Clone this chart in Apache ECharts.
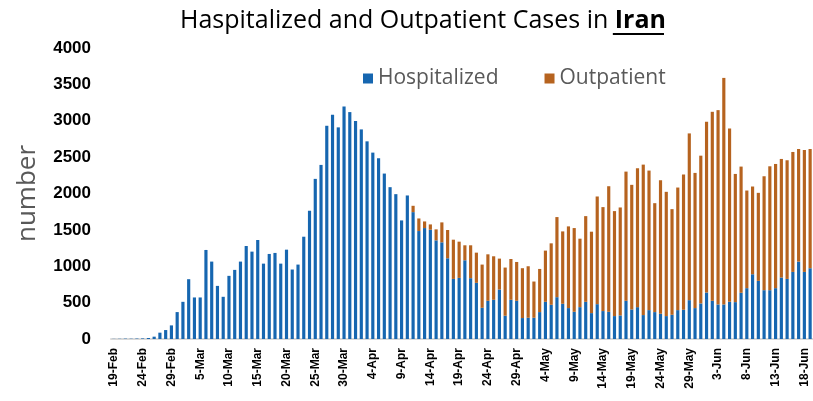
<!DOCTYPE html>
<html>
<head>
<meta charset="utf-8">
<script src="https://cdn.jsdelivr.net/npm/echarts@6/dist/echarts.min.js"></script>
<style>
	html, body { margin: 0; padding: 0; background: #fff; }
	#main { width: 813px; height: 401px; }
</style>
</head>
<body>
<div id="main"></div>
<script>
	// daily categories 19-Feb .. 19-Jun
	var months = ['Feb', 'Mar', 'Apr', 'May', 'Jun'];
	var monthStart = [19, 1, 1, 1, 1];
	var monthEnd = [29, 31, 30, 31, 19];
	var days = [];
	for(var m = 0; m < months.length; m++) {
		for(var d = monthStart[m]; d <= monthEnd[m]; d++) {
			days.push(d + '-' + months[m]);
		}
	}

	// hospitalized (blue)
	var hospitalized = [
		2, 3, 5, 4, 6, 8, 14, 32, 87, 123,
		187, 370, 511, 822, 571, 571, 1224, 1064, 730, 580,
		868, 950, 1064, 1278, 1201, 1361, 1036, 1169, 1183, 1036,
		1228, 955, 1023, 1406, 1762, 2201, 2393, 2931, 3082, 2909,
		3196, 3119, 2995, 2881, 2717, 2562, 2484, 2274, 2087, 1991,
		1630, 1973, 1744, 1484, 1525, 1502, 1356, 1329, 1110, 826,
		840, 1082, 836, 772, 429, 525, 539, 680, 320, 539,
		525, 288, 292, 292, 370, 511, 470, 575, 484, 425,
		374, 438, 511, 356, 479, 384, 374, 315, 324, 525,
		406, 438, 329, 397, 370, 347, 315, 333, 397, 402,
		534, 425, 489, 639, 525, 475, 475, 511, 507, 635,
		699, 890, 799, 671, 671, 699, 845, 826, 922, 1064,
		922, 973
	];
	// outpatient (orange), stacked on top
	var outpatient = [
		0, 0, 0, 0, 0, 0, 0, 0, 0, 0,
		0, 0, 0, 0, 0, 0, 0, 0, 0, 0,
		0, 0, 0, 0, 0, 0, 0, 0, 0, 0,
		0, 0, 0, 0, 0, 0, 0, 0, 0, 0,
		0, 0, 0, 0, 0, 0, 0, 0, 0, 0,
		0, 0, 87, 173, 91, 73, 151, 274, 388, 539,
		498, 206, 452, 415, 594, 639, 598, 425, 662, 561,
		534, 685, 708, 498, 593, 704, 845, 1101, 995, 1123,
		1151, 941, 1178, 1119, 1480, 1429, 1726, 1443, 1484, 1776,
		1713, 1909, 2068, 1918, 1497, 1836, 1708, 1452, 1685, 1858,
		2292, 1858, 2031, 2347, 2598, 2671, 3114, 2384, 1762, 1735,
		1342, 1206, 1210, 1566, 1703, 1707, 1630, 1631, 1649, 1548,
		1676, 1639
	];

	var myChart = echarts.init(document.getElementById('main'));
	var option = {
		animation: false,
		title: {
			text: 'Haspitalized and Outpatient Cases in {b|Iran}',
			left: 418,
			textAlign: 'center',
			top: 3,
			textStyle: {
				fontFamily: 'Open Sans',
				fontSize: 25,
				fontWeight: 'normal',
				color: '#000',
				rich: {
					b: {
						fontFamily: 'Open Sans',
						fontSize: 25,
						fontWeight: 'bold',
						color: '#000'
					}
				}
			}
		},
		// underline under "Iran", placed after measuring
		graphic: [{
			type: 'rect',
			id: 'underline',
			shape: { x: 0, y: 0, width: 1, height: 2 },
			style: { fill: '#000' },
			invisible: true
		}],
		legend: {
			left: 358,
			top: 63,
			itemWidth: 10,
			itemHeight: 10,
			itemGap: 46,
			icon: 'rect',
			textStyle: {
				fontFamily: 'Open Sans',
				fontSize: 21,
				color: '#595959'
			},
			data: ['Hospitalized', 'Outpatient']
		},
		grid: {
			left: 111,
			top: 48,
			width: 705,
			height: 291
		},
		xAxis: {
			type: 'category',
			data: days,
			axisLine: {
				lineStyle: { color: '#d9d9d9', width: 2 }
			},
			axisTick: {
				interval: 4,
				length: 5,
				lineStyle: { color: '#d9d9d9', width: 2 }
			},
			axisLabel: {
				interval: 4,
				rotate: 90,
				margin: 9,
				fontFamily: 'Liberation Sans',
				fontWeight: 'bold',
				fontSize: 12,
				color: '#000'
			}
		},
		yAxis: {
			type: 'value',
			min: 0,
			max: 4000,
			interval: 500,
			name: 'number',
			nameLocation: 'middle',
			nameGap: 70,
			nameTextStyle: {
				fontFamily: 'Open Sans',
				fontSize: 26,
				color: '#595959'
			},
			axisLine: { show: false },
			axisTick: { show: false },
			splitLine: { show: false },
			axisLabel: {
				margin: 20,
				fontFamily: 'Liberation Sans',
				fontWeight: 'bold',
				fontSize: 17,
				color: '#000',
				formatter: function(v) {
					return String(v);
				}
			}
		},
		series: [{
			name: 'Hospitalized',
			type: 'bar',
			stack: 'cases',
			barWidth: '55%',
			itemStyle: { color: '#1666b0' },
			data: hospitalized
		}, {
			name: 'Outpatient',
			type: 'bar',
			stack: 'cases',
			barWidth: '55%',
			itemStyle: { color: '#b6631f' },
			data: outpatient
		}]
	};
	myChart.setOption(option);

	// measure the title so the underline sits under "Iran"
	var ctx = document.createElement('canvas').getContext('2d');
	ctx.font = '25px "Open Sans"';
	var w1 = ctx.measureText('Haspitalized and Outpatient Cases in ').width;
	ctx.font = 'bold 25px "Open Sans"';
	var w2 = ctx.measureText('Iran').width;
	var x0 = 418 - (w1 + w2) / 2 + w1;
	myChart.setOption({
		graphic: [{
			id: 'underline',
			invisible: false,
			shape: { x: x0 + 3, y: 33, width: w2, height: 2 }
		}]
	});
</script>
</body>
</html>
